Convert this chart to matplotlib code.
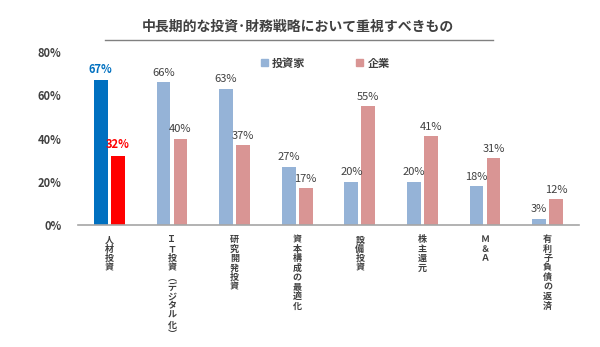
import numpy as np
import matplotlib.pyplot as plt
from matplotlib.patches import Patch

plt.rcParams['font.family'] = ['Noto Sans CJK JP', 'DejaVu Sans']

categories = ['人材投資', 'ＩＴ投資︵デジタル化︶', '研究開発投資', '資本構成の最適化',
              '設備投資', '株主還元', 'Ｍ＆Ａ', '有利子負債の返済']
investors = [67, 66, 63, 27, 20, 20, 18, 3]
companies = [32, 40, 37, 17, 55, 41, 31, 12]
series_names = ['投資家', '企業']

BLUE = '#95B3D7'
PINK = '#D99594'
HL_BLUE = '#0070C0'
HL_RED = '#FF0000'
TEXT = '#404040'

x = np.arange(len(categories))
w = 0.22
off = 0.135

fig = plt.figure(figsize=(6, 3.47), dpi=100)
ax = fig.add_axes([0.13, 0.3516, 0.835, 0.4984])

inv_colors = [HL_BLUE] + [BLUE] * (len(x) - 1)
com_colors = [HL_RED] + [PINK] * (len(x) - 1)
ax.bar(x - off, investors, w, color=inv_colors, zorder=2)
ax.bar(x + off, companies, w, color=com_colors, zorder=2)

for i in range(len(x)):
    if i == 0:
        ax.text(x[i] - off, investors[i] + 2, f'{investors[i]}%', ha='center', va='bottom',
                fontsize=8, color=HL_BLUE, fontweight='bold')
        ax.text(x[i] + off, companies[i] + 2, f'{companies[i]}%', ha='center', va='bottom',
                fontsize=8, color=HL_RED, fontweight='bold')
    else:
        ax.text(x[i] - off, investors[i] + 2, f'{investors[i]}%', ha='center', va='bottom',
                fontsize=8, color=TEXT)
        ax.text(x[i] + off, companies[i] + 2, f'{companies[i]}%', ha='center', va='bottom',
                fontsize=8, color=TEXT)

ax.set_xlim(-0.5, len(x) - 0.5)
ax.set_ylim(0, 80)
ax.set_yticks([0, 20, 40, 60, 80])
ax.set_yticklabels([f'{v}%' for v in [0, 20, 40, 60, 80]], fontsize=8, color=TEXT, fontweight='bold')
ax.tick_params(axis='y', length=0, pad=12)
ax.tick_params(axis='x', length=0)
ax.set_xticks([])
for s in ['top', 'right', 'left']:
    ax.spines[s].set_visible(False)
ax.spines['bottom'].set_color('#A6A6A6')
ax.spines['bottom'].set_linewidth(1.2)

# vertical category labels: one character at a time, stacked downwards
step = 6.8
for i, c in enumerate(categories):
    for k, ch in enumerate(c):
        ax.annotate(ch, xy=(x[i], 0), xytext=(0, -7.5 - k * step), textcoords='offset points',
                    ha='center', va='top', fontsize=6.5, color=TEXT, fontweight='bold',
                    annotation_clip=False)

handles = [Patch(color=BLUE), Patch(color=PINK)]
ax.legend(handles, series_names, loc='upper left', bbox_to_anchor=(0.345, 1.03), ncol=2,
          frameon=False, handlelength=0.6, handleheight=0.6,
          columnspacing=4.6, handletextpad=0.4, labelcolor=TEXT,
          prop={'weight': 'bold', 'size': 8})

fig.text(0.497, 0.922, '中長期的な投資･財務戦略において重視すべきもの', ha='center', va='center',
         fontsize=10, fontweight='bold', color=TEXT)
fig.add_artist(plt.Line2D([0.175, 0.822], [0.885, 0.885], color='#808080', linewidth=1))

fig.savefig('out.png', dpi=100)
